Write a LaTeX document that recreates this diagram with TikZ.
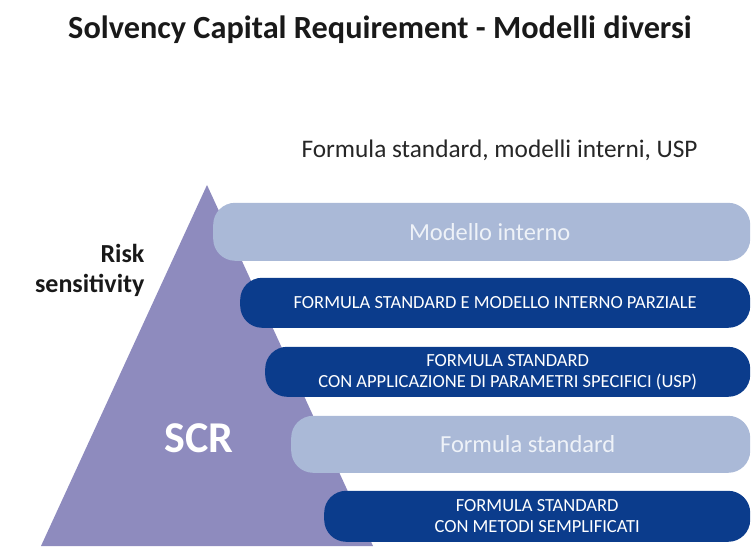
\documentclass[tikz,border=0pt]{standalone}
\usepackage{fontspec}
\setmainfont{Carlito}
\definecolor{pyramid}{HTML}{8E8BBE}
\definecolor{lightbar}{HTML}{AAB9D7}
\definecolor{darkbar}{HTML}{0B3C8C}
\definecolor{paletext}{HTML}{EEF2F8}

\begin{document}
\begin{tikzpicture}[x=1pt, y=1pt,
  bar/.style = {shape=rectangle, rounded corners=22pt, anchor=south west,
    inner sep=0pt, align=center},
  palebar/.style = {bar, fill=lightbar, text=paletext,
    font=\fontsize{24.5}{28}\selectfont},
  navybar/.style = {bar, fill=darkbar, text=white,
    font=\fontsize{18.5}{21}\selectfont}]
  \useasboundingbox (0,0) rectangle (752,546);
  % heading
  \node [anchor=base, font=\bfseries\fontsize{32.3}{36}\selectfont, text=black!90] (title) at (380,507)
    {Solvency Capital Requirement - Modelli diversi};
  \node [anchor=base west, font=\fontsize{25.3}{28}\selectfont, text=black!85] (subtitle) at (298,388)
    {Formula standard, modelli interni, USP};
  % pyramid
  \fill [pyramid] (207,361) -- (41,0) -- (373,0) -- cycle;
  \node [anchor=east, align=right, font=\bfseries\fontsize{26}{30}\selectfont, text=black!90] (risk) at (148,276)
    {Risk\\sensitivity};
  \node [font=\bfseries\fontsize{44}{48}\selectfont, text=white] (scr) at (199,108) {SCR};
  % bars
  \node [palebar, minimum width=537, minimum height=58] (interno) at (213,285) {\hspace*{16pt}Modello interno};
  \node [navybar, minimum width=510, minimum height=50] (parziale) at (240,218)
    {FORMULA STANDARD E MODELLO INTERNO PARZIALE};
  \node [navybar, minimum width=485, minimum height=50] (usp) at (265,149)
    {FORMULA STANDARD\\CON APPLICAZIONE DI PARAMETRI SPECIFICI (USP)};
  \node [palebar, minimum width=459, minimum height=57] (standard) at (291,73) {\hspace*{14pt}Formula standard};
  \node [navybar, minimum width=426, minimum height=51] (semplificati) at (324,4)
    {FORMULA STANDARD\\CON METODI SEMPLIFICATI};
\end{tikzpicture}
\end{document}
